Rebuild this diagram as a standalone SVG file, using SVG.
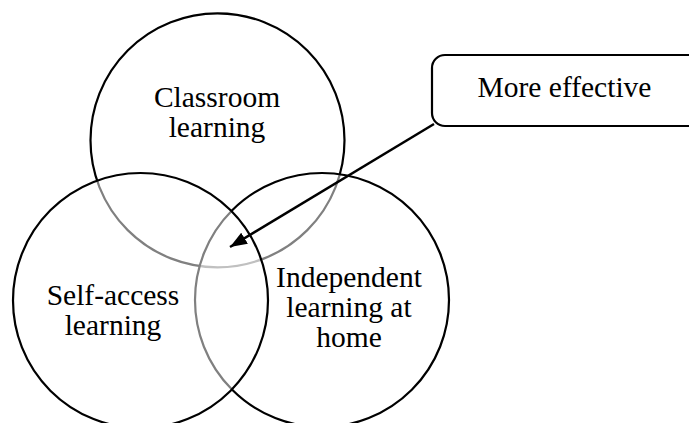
<svg xmlns="http://www.w3.org/2000/svg" width="689" height="423" viewBox="0 0 689 423">
  <style>
    .c { fill: #ffffff; fill-opacity: 0.5; stroke: #000000; stroke-width: 2.2; }
    .t { font-family: "Liberation Serif", "Times New Roman", serif; font-size: 29.5px; fill: #000000; text-anchor: middle; }
    .box { fill: #ffffff; stroke: #000000; stroke-width: 2.2; }
    .arrow { stroke: #000000; stroke-width: 2.5; fill: none; }
  </style>
  <defs>
    <marker id="ah" markerUnits="userSpaceOnUse" markerWidth="18" markerHeight="14" refX="17" refY="6.5" orient="auto">
      <path d="M0,0 L17,6.5 L0,13 z" fill="#000000"/>
    </marker>
  </defs>
  <rect width="689" height="423" fill="#ffffff"/>
  <g id="classroom">
    <circle class="c" cx="217.5" cy="140.3" r="127"/>
    <text class="t" x="217" y="107">Classroom</text>
    <text class="t" x="217" y="137">learning</text>
  </g>
  <g id="independent">
    <circle class="c" cx="322" cy="300" r="127"/>
    <text class="t" x="349" y="287">Independent</text>
    <text class="t" x="349" y="317">learning at</text>
    <text class="t" x="349" y="347">home</text>
  </g>
  <g id="selfaccess">
    <circle class="c" cx="140.5" cy="300.5" r="127.5"/>
    <text class="t" x="113" y="305">Self-access</text>
    <text class="t" x="113" y="335">learning</text>
  </g>
  <g id="callout">
    <rect class="box" x="432" y="55" width="280" height="71" rx="13" ry="13"/>
    <text class="t" x="564.5" y="97">More effective</text>
  </g>
  <g id="connectors">
    <line class="arrow" x1="434" y1="124" x2="230" y2="247" marker-end="url(#ah)"/>
  </g>
</svg>
